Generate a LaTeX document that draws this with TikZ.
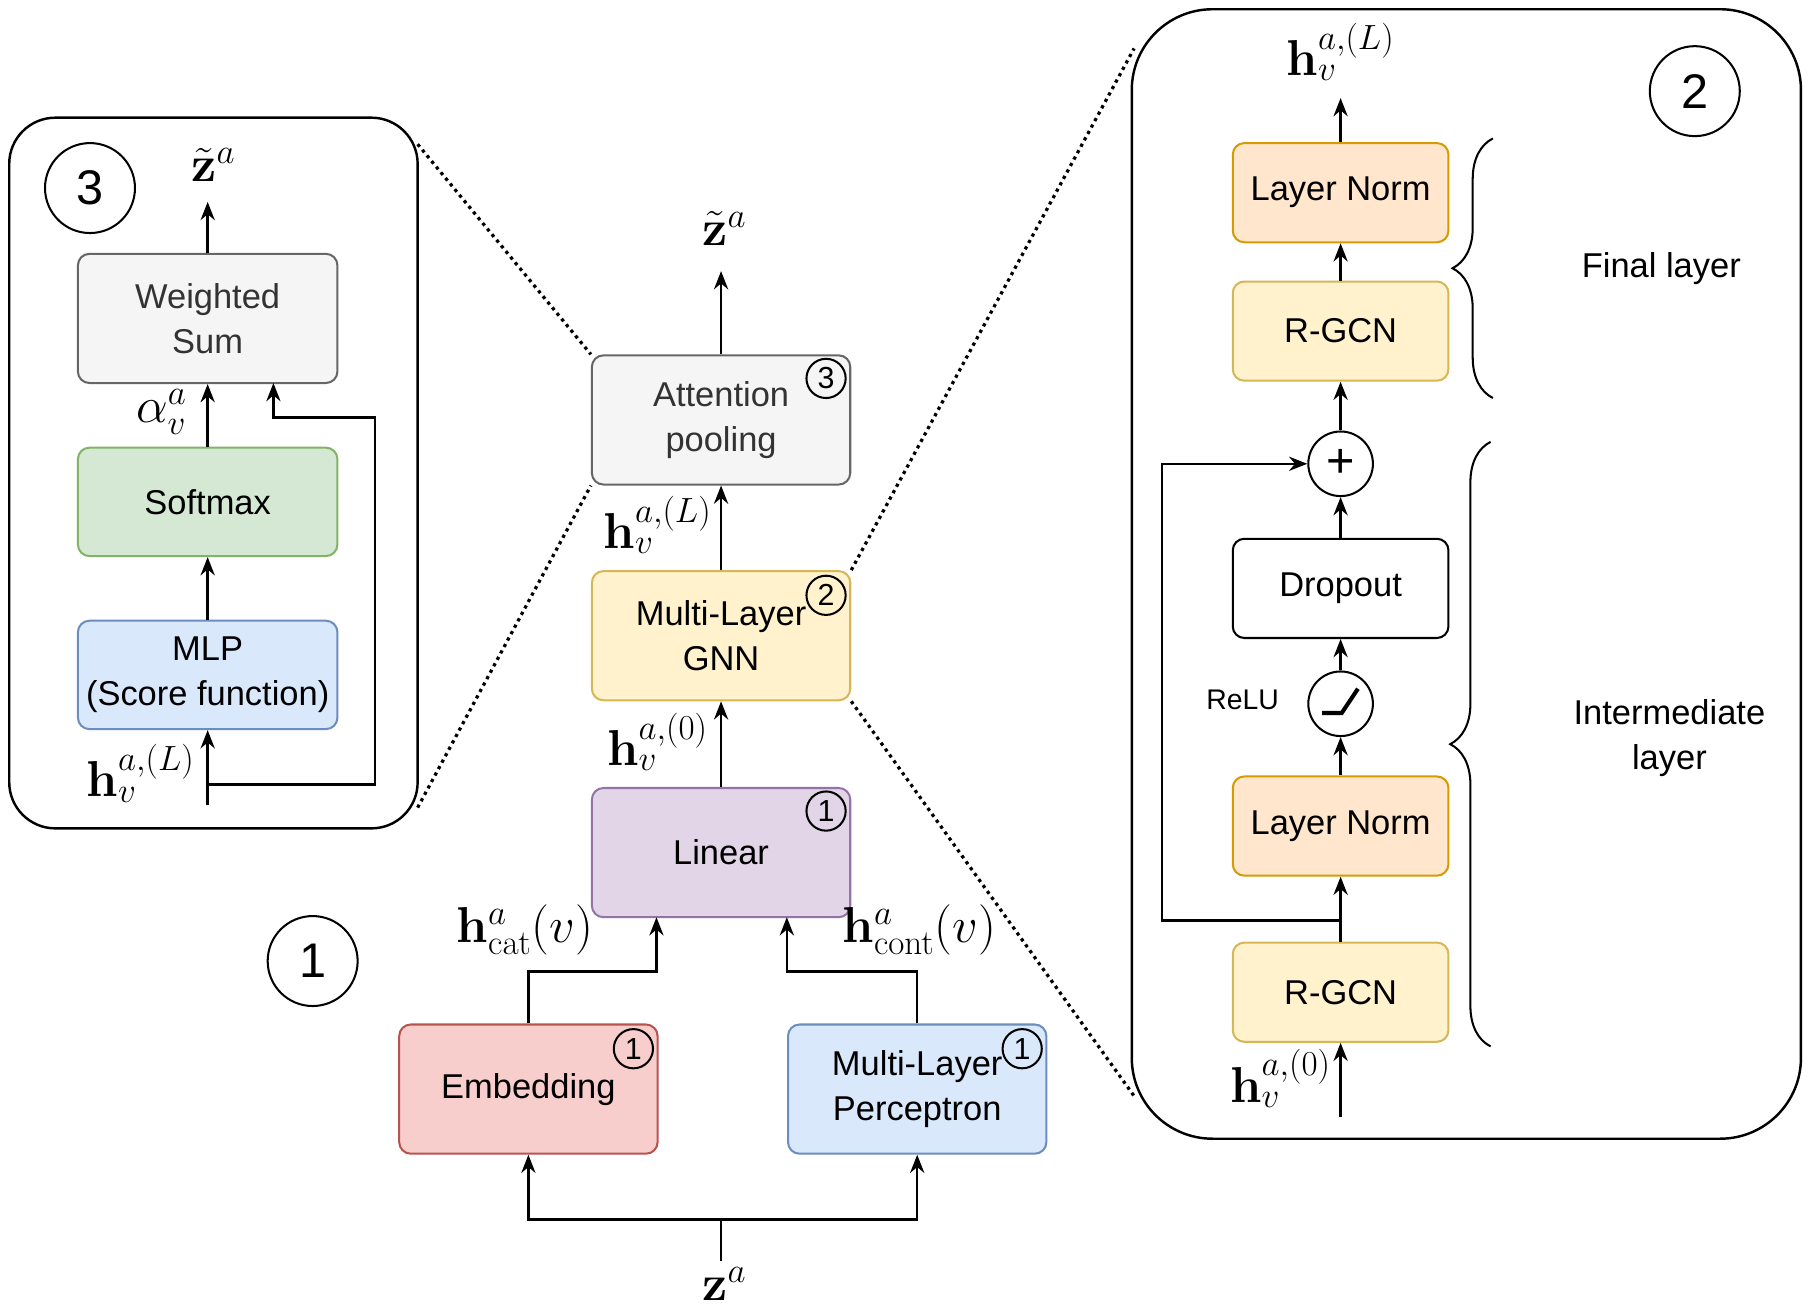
\documentclass[tikz,border=0pt]{standalone}
\usepackage[no-math]{fontspec}
\setmainfont{Liberation Sans}
\usepackage{amsmath}
\usetikzlibrary{arrows.meta,decorations.pathreplacing}
\definecolor{cgray}{HTML}{F5F5F5}\definecolor{dgray}{HTML}{666666}
\definecolor{cyel}{HTML}{FFF2CC}\definecolor{dyel}{HTML}{D6B656}
\definecolor{cora}{HTML}{FFE6CC}\definecolor{dora}{HTML}{D79B00}
\definecolor{cgrn}{HTML}{D5E8D4}\definecolor{dgrn}{HTML}{82B366}
\definecolor{cblu}{HTML}{DAE8FC}\definecolor{dblu}{HTML}{6C8EBF}
\definecolor{cpur}{HTML}{E1D5E7}\definecolor{dpur}{HTML}{9673A6}
\definecolor{cred}{HTML}{F8CECC}\definecolor{dred}{HTML}{B85450}
\begin{document}
\begin{tikzpicture}[x=0.02cm,y=-0.02cm,line width=1.2pt,
  arr/.style={-{Stealth[length=9pt,width=7pt]}},
  bx/.style={draw,rounded corners=0.2cm,align=center,font=\fontsize{17}{22}\selectfont,line width=1pt},
  big/.style={bx,minimum width=4.48cm,minimum height=2.24cm},
  lft/.style={bx,minimum width=4.5cm,minimum height=1.88cm},
  rgt/.style={bx,minimum width=3.74cm,minimum height=1.72cm},
  gray/.style={fill=cgray,draw=dgray,text=black!80},
  yel/.style={fill=cyel,draw=dyel},
  ora/.style={fill=cora,draw=dora},
  grn/.style={fill=cgrn,draw=dgrn},
  blu/.style={fill=cblu,draw=dblu},
  pur/.style={fill=cpur,draw=dpur},
  red/.style={fill=cred,draw=dred},
  num/.style={draw,circle,minimum size=0.68cm,inner sep=0pt,font=\fontsize{15}{15}\selectfont,line width=1pt},
  bignum/.style={draw,circle,minimum size=1.56cm,inner sep=0pt,font=\fontsize{24}{24}\selectfont,line width=1pt},
  ml/.style={font=\fontsize{23}{27}\selectfont,inner sep=0pt},
  lab/.style={font=\fontsize{17}{22}\selectfont,align=center}]
\useasboundingbox (0,0) rectangle (1568,1139);
% left panel
\draw[rounded corners=0.8cm] (8,102) rectangle (362,718);
\node[bignum] (c3) at (78,163) {3};
\node[lft,gray,minimum height=2.24cm] (ws) at (180,276) {Weighted\\Sum};
\node[lft,grn] (sm) at (180,435) {Softmax};
\node[lft,blu] (mlp) at (180,585) {MLP\\(Score function)};
\node[ml] (zt1) at (185,143) {$\tilde{\mathbf z}^a$};
\coordinate (lin) at (180,698);
\coordinate (lsp) at (180,680);
\draw[arr] (ws.north) -- (180,175);
\draw[arr] (sm) -- (ws);
\draw[arr] (mlp) -- (sm);
\draw[arr] (lin) -- (mlp);
\draw[arr] (lsp) -- (325,680) -- (325,362) -- (237,362) -- (237,332);
\node[ml] at (140,357) {$\alpha_v^a$};
\node[ml] at (122,670) {$\mathbf h_v^{a,(L)}$};
% center
\node[big,gray] (att) at (625,364) {Attention\\pooling};
\node[big,yel] (gnn) at (625,551) {Multi-Layer\\GNN};
\node[big,pur] (lin1) at (625,739) {Linear};
\node[big,red] (emb) at (458,944) {Embedding};
\node[big,blu] (mlp2) at (795,944) {Multi-Layer\\Perceptron};
\node[num] at (716,328) {3};
\node[num] at (716,516) {2};
\node[num] at (716,703) {1};
\node[num] at (549,909) {1};
\node[num] at (886,909) {1};
\node[bignum] (c1) at (271,833) {1};
\node[ml] (zt2) at (628,198) {$\tilde{\mathbf z}^a$};
\node[ml] (za) at (628,1113) {$\mathbf z^a$};
\draw[arr] (att.north) -- (625,235);
\draw[arr] (gnn) -- (att);
\draw[arr] (lin1) -- (gnn);
\node[ml] at (570,455) {$\mathbf h_v^{a,(L)}$};
\node[ml] at (570,643) {$\mathbf h_v^{a,(0)}$};
\draw[arr] (emb.north) -- (458,842) -- (569,842) -- (569,795);
\draw[arr] (mlp2.north) -- (795,842) -- (682,842) -- (682,795);
\node[ml] at (455,806) {$\mathbf h_{\mathrm{cat}}^a(v)$};
\node[ml] at (797,806) {$\mathbf h_{\mathrm{cont}}^a(v)$};
\draw (625,1093) -- (625,1057);
\draw[arr] (625,1057) -- (458,1057) -- (emb.south);
\draw[arr] (625,1057) -- (795,1057) -- (mlp2.south);
% dotted
\draw[dotted,line width=1.6pt] (362,125) -- (att.north west);
\draw[dotted,line width=1.6pt] (362,700) -- (att.south west);
\draw[dotted,line width=1.6pt] (gnn.north east) -- (983,42);
\draw[dotted,line width=1.6pt] (gnn.south east) -- (983,950);
% right panel
\draw[rounded corners=1.4cm] (981,8) rectangle (1561,987);
\node[bignum] (c2) at (1469,79) {2};
\node[rgt,ora] (ln2) at (1162,167) {Layer Norm};
\node[rgt,yel] (rg2) at (1162,287) {R-GCN};
\node[draw,circle,minimum size=1.12cm,inner sep=0pt,line width=1pt,font=\fontsize{24}{24}\selectfont] (plus) at (1162,402) {+};
\node[rgt,fill=white] (drop) at (1162,510) {Dropout};
\node[draw,circle,minimum size=1.12cm,inner sep=0pt,line width=1pt] (relu) at (1162,610) {};
\draw[line width=2pt] (1146,618) -- (1163,618) -- (1177,597);
\node[lab,font=\fontsize{14}{16}\selectfont] at (1077,607) {ReLU};
\node[rgt,ora] (ln1) at (1162,716) {Layer Norm};
\node[rgt,yel] (rg1) at (1162,860) {R-GCN};
\node[ml] (htop) at (1162,45) {$\mathbf h_v^{a,(L)}$};
\coordinate (rin) at (1162,968);
\draw[arr] (ln2) -- (1162,85);
\draw[arr] (rg2) -- (ln2);
\draw[arr] (plus) -- (rg2);
\draw[arr] (drop) -- (plus);
\draw[arr] (relu) -- (drop);
\draw[arr] (ln1) -- (relu);
\draw[arr] (rg1) -- (ln1);
\draw[arr] (rin) -- (rg1);
\draw[arr] (1162,798) -- (1007,798) -- (1007,402) -- (plus.west);
\node[ml] at (1110,935) {$\mathbf h_v^{a,(0)}$};
\draw[decorate,decoration={brace,amplitude=0.7cm},line width=1pt] (1294,345) -- (1294,120);
\draw[decorate,decoration={brace,amplitude=0.7cm},line width=1pt] (1292,907) -- (1292,383);
\node[lab] at (1440,233) {Final layer};
\node[lab] at (1447,640) {Intermediate\\layer};
\end{tikzpicture}
\end{document}
